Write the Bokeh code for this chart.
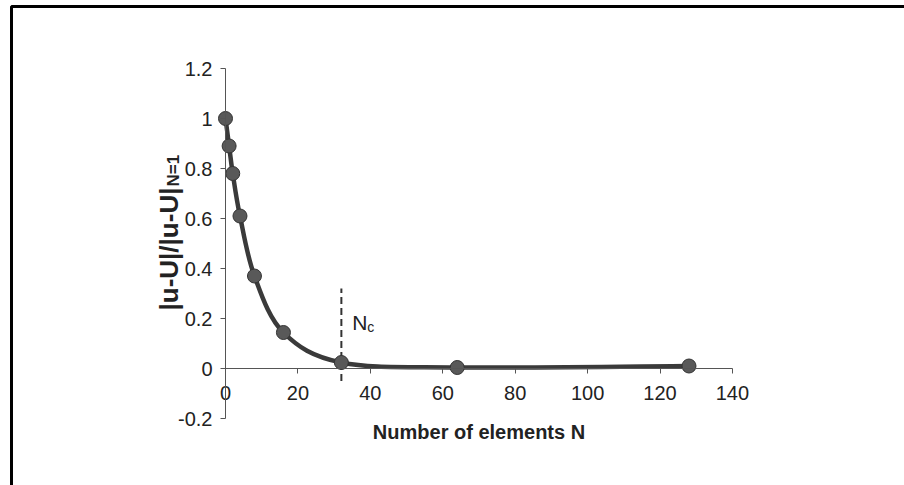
import math
from bokeh.plotting import figure
from bokeh.models import Range1d, FixedTicker, CustomJSTickFormatter, Label, BoxAnnotation
from bokeh.embed import file_html
from bokeh.resources import INLINE

# ---- data ----
n_elements = [0, 1, 2, 4, 8, 16, 32, 64, 128]
error_ratio = [1.0, 0.89, 0.78, 0.61, 0.37, 0.144, 0.024, 0.004, 0.01]
nc = 32
x_ticks = [0, 20, 40, 60, 80, 100, 120, 140]
x_tick_labels = ["0", "20", "40", "60", "80", "100", "120", "140"]
y_ticks = [-0.2, 0, 0.2, 0.4, 0.6, 0.8, 1, 1.2]
y_tick_labels = ["-0.2", "0", "0.2", "0.4", "0.6", "0.8", "1", "1.2"]
x_title = "Number of elements N"
y_title = "|u-U|/|u-U|"
y_title_sub = "N=1"
nc_text = "N"
nc_sub = "c"

# ---- layout (frame = whole canvas) ----
W, H = 904, 485
X0PX, XPX = 225.0, 3.621     # pixel of x=0, pixels per unit
Y0PX, YPX = 368.0, 250.0     # pixel of y=0, pixels per unit
x_range = Range1d(-X0PX / XPX, (W - X0PX) / XPX)
y_range = Range1d((Y0PX - H) / YPX, Y0PX / YPX)

p = figure(width=W, height=H, x_range=x_range, y_range=y_range,
           output_backend="svg", toolbar_location=None, min_border=0,
           outline_line_color=None, background_fill_color="white",
           border_fill_color="white")
p.grid.visible = False

FONT = "Liberation Sans"
TXT = "#222222"
AX = "#555555"

def fmt(ticks, labels):
    return CustomJSTickFormatter(args=dict(t=ticks, l=labels), code="""
        for (let i = 0; i < t.length; i++) { if (Math.abs(t[i] - tick) < 1e-9) return l[i]; }
        return '';""")

xa = p.xaxis[0]
xa.fixed_location = 0
xa.bounds = (x_ticks[0], x_ticks[-1])
xa.ticker = FixedTicker(ticks=x_ticks)
xa.formatter = fmt(x_ticks, x_tick_labels)
xa.minor_tick_line_color = None
xa.major_tick_in = 0
xa.major_tick_out = 5
xa.axis_line_color = AX
xa.major_tick_line_color = AX
xa.major_label_text_font = FONT
xa.major_label_text_font_size = "20px"
xa.major_label_text_color = TXT
xa.major_label_standoff = 12
xa.axis_label = x_title
xa.axis_label_text_font = FONT
xa.axis_label_text_font_style = "bold"
xa.axis_label_text_font_size = "20px"
xa.axis_label_text_color = TXT
xa.axis_label_standoff = 18

ya = p.yaxis[0]
ya.fixed_location = 0
ya.bounds = (y_ticks[0], y_ticks[-1])
ya.ticker = FixedTicker(ticks=y_ticks)
ya.formatter = fmt(y_ticks, y_tick_labels)
ya.minor_tick_line_color = None
ya.major_tick_in = 0
ya.major_tick_out = 5
ya.axis_line_color = AX
ya.major_tick_line_color = AX
ya.major_label_text_font = FONT
ya.major_label_text_font_size = "20px"
ya.major_label_text_color = TXT
ya.major_label_standoff = 8

# ---- frame border (top and left visible) ----
p.add_layout(BoxAnnotation(left=(11 - X0PX) / XPX, top=(Y0PX - 6) / YPX,
                           right=x_range.end + 100, bottom=y_range.start - 1,
                           fill_alpha=0, line_color="black", line_alpha=1.0,
                           line_width=3))

# ---- Nc dashed line ----
p.segment(x0=[nc], y0=[-0.05], x1=[nc], y1=[0.32], line_color="#333333",
          line_width=2, line_dash="7 4")

# ---- smooth curve (Catmull-Rom bezier through the data points) ----
pts = list(zip(n_elements, error_ratio))
bx0, by0, bx1, by1, cx0, cy0, cx1, cy1 = ([] for _ in range(8))
for i in range(len(pts) - 1):
    q0 = pts[i - 1] if i > 0 else pts[i]
    q1, q2 = pts[i], pts[i + 1]
    q3 = pts[i + 2] if i + 2 < len(pts) else pts[i + 1]
    bx0.append(q1[0]); by0.append(q1[1]); bx1.append(q2[0]); by1.append(q2[1])
    cx0.append(q1[0] + (q2[0] - q0[0]) / 6); cy0.append(q1[1] + (q2[1] - q0[1]) / 6)
    cx1.append(q2[0] - (q3[0] - q1[0]) / 6); cy1.append(q2[1] - (q3[1] - q1[1]) / 6)
p.bezier(x0=bx0, y0=by0, x1=bx1, y1=by1, cx0=cx0, cy0=cy0, cx1=cx1, cy1=cy1,
         line_color="#3a3a3a", line_width=4.5, line_cap="round")

p.scatter(n_elements, error_ratio, size=14, fill_color="#595959",
          line_color="#333333", line_width=1)

# ---- Nc label ----
p.add_layout(Label(x=nc, y=(Y0PX - 322) / YPX, x_offset=11, text=nc_text,
                   text_font=FONT, text_font_size="21px", text_color=TXT,
                   text_baseline="alphabetic"))
p.add_layout(Label(x=nc, y=(Y0PX - 322) / YPX, x_offset=26, y_offset=-4, text=nc_sub,
                   text_font=FONT, text_font_size="14px", text_color=TXT,
                   text_baseline="alphabetic"))

# ---- y title with subscript ----
p.add_layout(Label(x=0, y=(Y0PX - 310) / YPX, x_offset=-57, text=y_title,
                   angle=math.pi / 2, text_align="left", text_baseline="middle",
                   text_font=FONT, text_font_style="bold",
                   text_font_size="26px", text_color=TXT))
p.add_layout(Label(x=0, y=(Y0PX - 186) / YPX, x_offset=-52, text=y_title_sub,
                   angle=math.pi / 2, text_align="left", text_baseline="middle",
                   text_font=FONT, text_font_style="bold",
                   text_font_size="17px", text_color=TXT))

open("out.html", "w").write(file_html(p, INLINE))
